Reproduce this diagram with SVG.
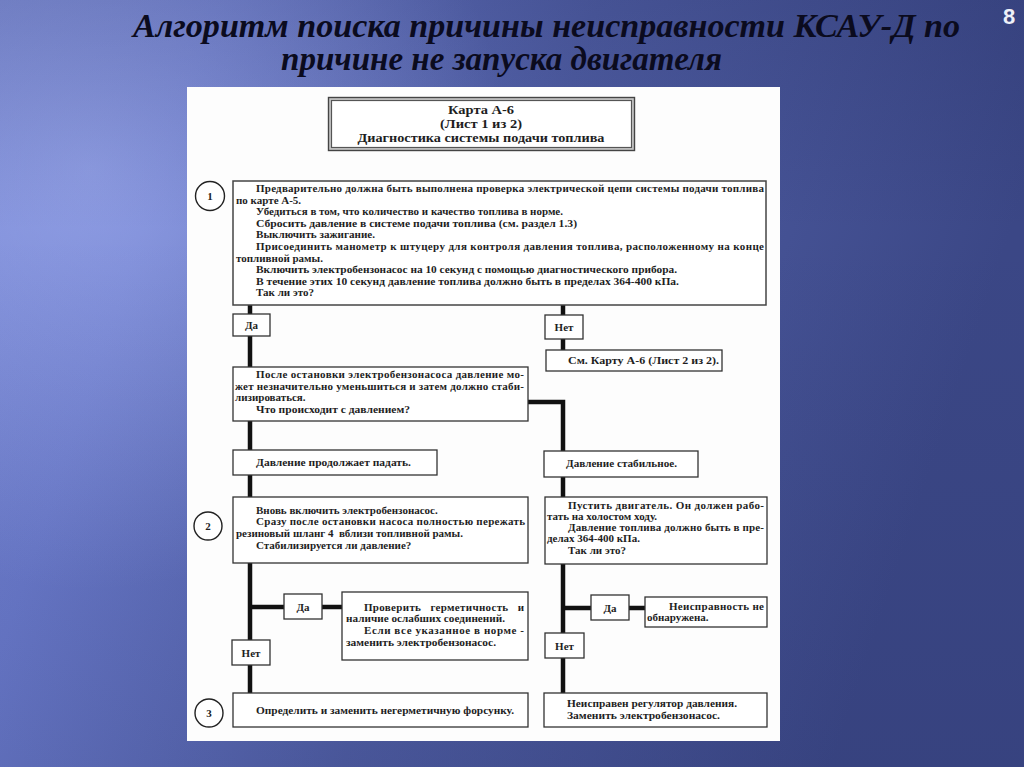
<svg xmlns="http://www.w3.org/2000/svg" width="1024" height="767" viewBox="0 0 1024 767">
<defs>
<linearGradient id="bg" x1="0" y1="0" x2="1" y2="0.25">
<stop offset="0" stop-color="#7484d2"/>
<stop offset="0.2" stop-color="#6a7acb"/>
<stop offset="0.55" stop-color="#4f5da3"/>
<stop offset="1" stop-color="#3b4786"/>
</linearGradient>
<radialGradient id="glow" cx="90" cy="170" r="420" gradientUnits="userSpaceOnUse">
<stop offset="0" stop-color="#a9b6f4" stop-opacity="0.55"/>
<stop offset="1" stop-color="#a9b6f4" stop-opacity="0"/>
</radialGradient>
<linearGradient id="dark" x1="0" y1="0" x2="0" y2="1">
<stop offset="0" stop-color="#1a2250" stop-opacity="0.18"/>
<stop offset="0.3" stop-color="#1a2250" stop-opacity="0"/>
<stop offset="1" stop-color="#1a2250" stop-opacity="0.12"/>
</linearGradient>
</defs>
<style>
.title{font-family:"Liberation Serif","Times New Roman",serif;font-style:italic;font-weight:bold;font-size:33px;fill:#0b0b1e}
.pg{font-family:"Liberation Sans",Arial,sans-serif;font-weight:bold;font-size:22px;fill:#eef0f8}
.box{fill:#fff;stroke:#333;stroke-width:1.3}
.t{font-family:"Liberation Serif","Times New Roman",serif;font-weight:bold;font-size:11px;fill:#1e1e1e}
.h{font-family:"Liberation Serif","Times New Roman",serif;font-weight:bold;font-size:13.5px;fill:#1e1e1e;text-anchor:middle}
.lb{font-family:"Liberation Serif","Times New Roman",serif;font-weight:bold;font-size:11px;fill:#1e1e1e;text-anchor:middle}
.num{fill:#fff;stroke:#222;stroke-width:1.4}
.conn{fill:none;stroke:#111;stroke-width:4.5}
</style>
<rect x="0" y="0" width="1024" height="767" fill="url(#bg)"/>
<rect x="0" y="0" width="1024" height="767" fill="url(#glow)"/>
<rect x="0" y="0" width="1024" height="767" fill="url(#dark)"/>
<text class="title" x="133" y="37" textLength="827" lengthAdjust="spacingAndGlyphs">Алгоритм поиска причины неисправности КСАУ-Д по</text>
<text class="title" x="281" y="70" textLength="441" lengthAdjust="spacingAndGlyphs">причине не запуска двигателя</text>
<text class="pg" x="1009" y="24" text-anchor="middle">8</text>
<rect x="187" y="87" width="593" height="654" fill="#fdfdfd"/>

<g id="connectors">
<path class="conn" d="M250,305 V693"/>
<path class="conn" d="M563,305 V351"/>
<path class="conn" d="M528,402 H563 V693"/>
<path class="conn" d="M250,607 H342"/>
<path class="conn" d="M563,608 H645"/>
</g>

<g id="header">
<rect x="328.5" y="97.5" width="306" height="53" fill="#c8c8c8" stroke="#444" stroke-width="1.4"/>
<rect x="331.5" y="100.5" width="300" height="47" fill="#fff" stroke="#555" stroke-width="1.2"/>
<text class="h" x="481" y="114" textLength="66" lengthAdjust="spacingAndGlyphs">Карта А-6</text>
<text class="h" x="481" y="128" textLength="82" lengthAdjust="spacingAndGlyphs">(Лист 1 из 2)</text>
<text class="h" x="481" y="142" textLength="247" lengthAdjust="spacingAndGlyphs">Диагностика системы подачи топлива</text>
</g>

<g id="step1">
<circle class="num" cx="210" cy="196" r="14.5"/>
<text class="lb" x="210" y="200">1</text>
</g>
<g id="box1">
<rect class="box" x="233" y="181" width="533" height="124" style="stroke:#444;stroke-width:1.5"/>
<text class="t" x="256" y="192" textLength="508" lengthAdjust="spacing">Предварительно должна быть выполнена проверка электрической цепи системы подачи топлива</text>
<text class="t" x="236" y="203.6">по карте А-5.</text>
<text class="t" x="256" y="215.2" textLength="307" lengthAdjust="spacingAndGlyphs">Убедиться в том, что количество и качество топлива в норме.</text>
<text class="t" x="256" y="226.8" textLength="321" lengthAdjust="spacingAndGlyphs">Сбросить давление в системе подачи топлива (см. раздел 1.3)</text>
<text class="t" x="256" y="238.4" textLength="119" lengthAdjust="spacingAndGlyphs">Выключить зажигание.</text>
<text class="t" x="256" y="250" textLength="508" lengthAdjust="spacing">Присоединить манометр к штуцеру для контроля давления топлива, расположенному на конце</text>
<text class="t" x="236" y="261.6">топливной рамы.</text>
<text class="t" x="256" y="273.2" textLength="421" lengthAdjust="spacingAndGlyphs">Включить электробензонасос на 10 секунд с помощью диагностического прибора.</text>
<text class="t" x="256" y="284.8" textLength="423" lengthAdjust="spacingAndGlyphs">В течение этих 10 секунд давление топлива должно быть в пределах 364-400 кПа.</text>
<text class="t" x="256" y="296.4">Так ли это?</text>
</g>

<g id="yes1">
<rect class="box" x="233" y="314" width="37" height="22"/>
<text class="lb" x="251.5" y="329">Да</text>
</g>
<g id="no1">
<rect class="box" x="545" y="315" width="38" height="24"/>
<text class="lb" x="564" y="331">Нет</text>
</g>
<g id="see2">
<rect class="box" x="546" y="350" width="176" height="21"/>
<text class="t" x="568" y="364" textLength="151" lengthAdjust="spacingAndGlyphs">См. Карту А-6 (Лист 2 из 2).</text>
</g>

<g id="box-after">
<rect class="box" x="233" y="367" width="295" height="54"/>
<text class="t" x="256" y="378" textLength="268" lengthAdjust="spacing">После остановки электробензонасоса давление мо-</text>
<text class="t" x="235" y="389.5" textLength="289" lengthAdjust="spacing">жет незначительно уменьшиться и затем должно стаби-</text>
<text class="t" x="235" y="401">лизироваться.</text>
<text class="t" x="256" y="412.5" textLength="154" lengthAdjust="spacingAndGlyphs">Что происходит с давлением?</text>
</g>

<g id="falling">
<rect class="box" x="233" y="450" width="204" height="25"/>
<text class="t" x="256" y="466" textLength="155" lengthAdjust="spacingAndGlyphs">Давление продолжает падать.</text>
</g>
<g id="stable">
<rect class="box" x="544" y="451" width="154" height="26"/>
<text class="t" x="566" y="467" textLength="111" lengthAdjust="spacingAndGlyphs">Давление стабильное.</text>
</g>

<g id="step2">
<circle class="num" cx="208" cy="526" r="14"/>
<text class="lb" x="208" y="530">2</text>
</g>
<g id="box2">
<rect class="box" x="233" y="497" width="295" height="66"/>
<text class="t" x="256" y="513.5">Вновь включить электробензонасос.</text>
<text class="t" x="256" y="525.2" textLength="269" lengthAdjust="spacing">Сразу после остановки насоса полностью пережать</text>
<text class="t" x="236" y="536.9" xml:space="preserve">резиновый шланг 4  вблизи топливной рамы.</text>
<text class="t" x="256" y="548.6">Стабилизируется ли давление?</text>
</g>

<g id="box-start">
<rect class="box" x="545" y="497" width="222" height="67"/>
<text class="t" x="568" y="508.5" textLength="196" lengthAdjust="spacing">Пустить двигатель. Он должен рабо-</text>
<text class="t" x="547" y="519.8">тать на холостом ходу.</text>
<text class="t" x="568" y="531.1" textLength="196" lengthAdjust="spacing">Давление топлива должно быть в пре-</text>
<text class="t" x="547" y="542.4">делах 364-400 кПа.</text>
<text class="t" x="568" y="553.7">Так ли это?</text>
</g>

<g id="yes2">
<rect class="box" x="284" y="594" width="38" height="25"/>
<text class="lb" x="303" y="610.5">Да</text>
</g>
<g id="check">
<rect class="box" x="342" y="592" width="186" height="68"/>
<text class="t" x="364" y="610.7" textLength="160" lengthAdjust="spacing" xml:space="preserve">Проверить   герметичность   и</text>
<text class="t" x="346" y="622.4" textLength="159" lengthAdjust="spacingAndGlyphs">наличие ослабших соединений.</text>
<text class="t" x="364" y="634.1" textLength="160" lengthAdjust="spacing">Если все указанное в норме -</text>
<text class="t" x="346" y="645.8" textLength="150" lengthAdjust="spacingAndGlyphs">заменить электробензонасос.</text>
</g>
<g id="no2">
<rect class="box" x="232" y="640" width="38" height="25"/>
<text class="lb" x="251" y="656.5">Нет</text>
</g>

<g id="yes3">
<rect class="box" x="591" y="595" width="38" height="25"/>
<text class="lb" x="610" y="611.5">Да</text>
</g>
<g id="ok">
<rect class="box" x="645" y="597" width="122" height="30"/>
<text class="t" x="669" y="609.5" textLength="95" lengthAdjust="spacing">Неисправность не</text>
<text class="t" x="647" y="621">обнаружена.</text>
</g>
<g id="no3">
<rect class="box" x="545" y="633" width="39" height="25"/>
<text class="lb" x="564.5" y="649.5">Нет</text>
</g>

<g id="step3">
<circle class="num" cx="209" cy="713" r="14"/>
<text class="lb" x="209" y="717">3</text>
</g>
<g id="box3">
<rect class="box" x="233" y="693" width="295" height="34"/>
<text class="t" x="256" y="713.5" textLength="258" lengthAdjust="spacingAndGlyphs">Определить и заменить негерметичную форсунку.</text>
</g>
<g id="regulator">
<rect class="box" x="544" y="693" width="223" height="34"/>
<text class="t" x="567" y="706.5" textLength="170" lengthAdjust="spacingAndGlyphs">Неисправен регулятор давления.</text>
<text class="t" x="567" y="718.5" textLength="153" lengthAdjust="spacingAndGlyphs">Заменить электробензонасос.</text>
</g>
</svg>
